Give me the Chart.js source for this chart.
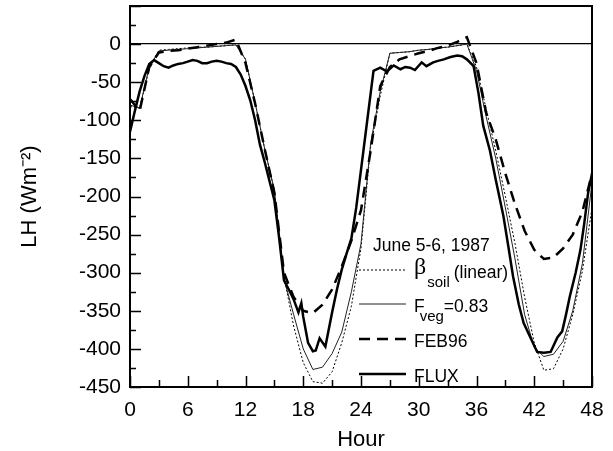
<!DOCTYPE html>
<html>
<head>
<meta charset="utf-8">
<title>LH June 5-6, 1987</title>
<script src="https://cdn.jsdelivr.net/npm/chart.js"></script>
<style>
  html, body { margin: 0; padding: 0; background: #fff; }
</style>
</head>
<body>
<canvas id="lhChart" width="613" height="451"></canvas>
<script>
  // hourly model output, hour 0..48
  const modelHour = [0, 1, 2, 3, 4, 5, 6, 7, 8, 9, 10, 11,
    12, 13, 14, 15, 16, 17, 18, 19, 20, 21, 22, 23,
    24, 25, 26, 27, 28, 29, 30, 31, 32, 33, 34, 35,
    36, 37, 38, 39, 40, 41, 42, 43, 44, 45, 46, 47,
    48];
  const betaSoil = [-82, -84, -33, -8, -7, -6, -5, -4, -4, -3, -2, -1,
    -20, -77, -138, -192, -305, -370, -418, -443, -445, -430, -392, -344,
    -268, -135, -68, -12, -11, -10, -8, -7, -5, -4, -2, 0,
    -30, -85, -140, -200, -262, -332, -392, -428, -426, -400, -355, -298,
    -215];
  const fVeg = [-80, -84, -30, -9, -8, -7, -6, -5, -4, -3, -2, -1,
    -20, -77, -138, -192, -308, -355, -400, -427, -424, -406, -378, -325,
    -262, -130, -62, -12, -11, -10, -8, -7, -5, -4, -2, 0,
    -35, -95, -150, -215, -282, -355, -398, -410, -407, -390, -350, -288,
    -182];
  const feb96 = [-72, -88, -30, -11, -9, -8, -6, -4, -2, 0, 2, 6,
    -25, -78, -138, -195, -300, -332, -350, -353, -342, -322, -292, -258,
    -218, -140, -55, -30, -20, -16, -12, -9, -5, -2, 3, 9,
    -25, -90, -125, -170, -210, -245, -270, -282, -280, -268, -250, -220,
    -170];

  // measured flux
  const fluxHour = [0, 0.5, 1, 1.5, 2, 2.5, 3, 3.5, 4, 4.5,
    5, 5.5, 6, 6.5, 7, 7.5, 8, 8.5, 9, 9.5,
    10, 10.5, 11, 11.5, 12, 12.5, 13, 13.5, 14, 14.5,
    15, 15.5, 16, 16.5, 17, 17.5, 17.8, 18, 18.5, 19,
    19.3, 19.7, 20.3, 21, 21.5, 22, 22.5, 23, 23.5, 24,
    24.5, 25, 25.3, 26, 26.7, 27.4, 28.1, 28.6, 29.1, 29.6,
    30.3, 30.8, 31.5, 32, 32.6, 33.3, 34, 34.5, 35, 35.7,
    36.2, 36.7, 37.4, 38, 38.8, 39.3, 39.8, 40.4, 40.9, 41.6,
    42.3, 43, 43.7, 44.4, 44.9, 45.3, 45.7, 46.3, 46.8, 47.2,
    47.6, 48];
  const fluxLH = [-115, -88, -62, -42, -26, -21, -25, -29, -31, -28,
    -26, -25, -23, -21, -22, -25, -25, -23, -22, -23,
    -25, -26, -30, -40, -55, -74, -100, -132, -155, -180,
    -205, -255, -310, -322, -335, -352, -340, -358, -392, -403,
    -402, -386, -397, -352, -322, -296, -275, -255, -215, -165,
    -115, -65, -35, -31, -36, -28, -33, -30, -31, -34,
    -24, -29, -24, -22, -20, -17, -15, -16, -20, -29,
    -64, -107, -140, -178, -226, -265, -305, -342, -366, -385,
    -404, -405, -404, -385, -377, -355, -331, -300, -270, -235,
    -195, -170];

  const legendTitle = 'June 5-6, 1987';
  const legendMain = ['β', 'F', 'FEB96', 'FLUX'];
  const legendSub = ['soil', 'veg', '', ''];
  const legendRest = ['(linear)', '=0.83', '', ''];

  const FONT = '"Liberation Sans", Arial, Helvetica, sans-serif';

  function pts(xs, ys) {
    return xs.map((h, i) => ({ x: h, y: ys[i] }));
  }

  // inward ticks + box frame
  const frameTicks = {
    id: 'frameTicks',
    afterDraw(chart) {
      const { ctx, chartArea: a, scales: { x, y } } = chart;
      ctx.save();
      ctx.strokeStyle = '#000';
      ctx.lineWidth = 1.5;
      ctx.beginPath();
      for (let v = y.min; v <= y.max; v += 25) {
        const py = Math.round(y.getPixelForValue(v)) + 0.5;
        const len = v % 50 === 0 ? 11 : 6;
        ctx.moveTo(a.left, py); ctx.lineTo(a.left + len, py);
      }
      for (let h = x.min; h <= x.max; h += 3) {
        const px = Math.round(x.getPixelForValue(h)) + 0.5;
        const len = h % 6 === 0 ? 11 : 7;
        ctx.moveTo(px, a.bottom); ctx.lineTo(px, a.bottom - len);
      }
      ctx.stroke();
      ctx.lineWidth = 2;
      ctx.strokeRect(a.left, a.top, a.right - a.left, a.bottom - a.top);
      ctx.restore();
    }
  };

  // legend inside the plot, with subscripts
  const insideLegend = {
    id: 'insideLegend',
    afterDatasetsDraw(chart) {
      const ctx = chart.ctx;
      const x0 = 359, x1 = 406, tx = 414;
      const rowY = [270, 304, 339, 374];
      ctx.save();
      ctx.fillStyle = '#000';
      ctx.textBaseline = 'middle';
      ctx.font = '17.5px ' + FONT;
      ctx.fillText(legendTitle, 373, 246);
      chart.data.datasets.forEach((ds, i) => {
        const yy = rowY[i];
        ctx.strokeStyle = ds.borderColor;
        ctx.lineWidth = ds.borderWidth;
        ctx.setLineDash(ds.borderDash || []);
        ctx.beginPath(); ctx.moveTo(x0, yy); ctx.lineTo(x1, yy); ctx.stroke();
        ctx.setLineDash([]);
        let cx = tx;
        if (i === 0) {
          ctx.font = '24px "Liberation Serif", "Times New Roman", serif';
          ctx.fillText(legendMain[i], cx, yy - 2);
          cx += ctx.measureText(legendMain[i]).width + 1;
        } else {
          ctx.font = '17.5px ' + FONT;
          ctx.fillText(legendMain[i], cx, yy + 3);
          cx += ctx.measureText(legendMain[i]).width;
          if (legendSub[i]) cx -= 5;
        }
        if (legendSub[i]) {
          ctx.font = '15px ' + FONT;
          ctx.fillText(legendSub[i], cx, yy + 13);
          cx += ctx.measureText(legendSub[i]).width;
        }
        if (legendRest[i]) {
          ctx.font = '17.5px ' + FONT;
          ctx.fillText(legendRest[i], cx + (i === 0 ? 4 : 0), yy + 3);
        }
      });
      ctx.restore();
    }
  };

  new Chart(document.getElementById('lhChart'), {
    type: 'line',
    data: {
      datasets: [
        {
          label: 'βsoil (linear)',
          data: pts(modelHour, betaSoil),
          borderColor: '#000',
          borderWidth: 1,
          borderDash: [2, 2],
          order: 3
        },
        {
          label: 'Fveg=0.83',
          data: pts(modelHour, fVeg),
          borderColor: '#222',
          borderWidth: 1,
          order: 2
        },
        {
          label: 'FEB96',
          data: pts(modelHour, feb96),
          borderColor: '#000',
          borderWidth: 2.5,
          borderDash: [11, 7],
          order: 1
        },
        {
          label: 'FLUX',
          data: pts(fluxHour, fluxLH),
          borderColor: '#000',
          borderWidth: 2.5,
          order: 0
        }
      ]
    },
    options: {
      responsive: false,
      animation: false,
      devicePixelRatio: 1,
      layout: { padding: { left: 0, right: 21, top: 6, bottom: 0 } },
      elements: { point: { radius: 0 }, line: { tension: 0, fill: false } },
      plugins: { legend: { display: false }, tooltip: { enabled: false } },
      scales: {
        x: {
          type: 'linear',
          min: 0, max: 48,
          afterFit: s => { s.height = 64; s.paddingLeft = 0; s.paddingRight = 0; },
          grid: { display: false, drawTicks: false },
          border: { display: false },
          ticks: {
            stepSize: 6, autoSkip: false, maxRotation: 0, padding: 11,
            color: '#000', font: { family: FONT, size: 21 }
          },
          title: {
            display: true, text: 'Hour', color: '#000',
            font: { family: FONT, size: 22, lineHeight: 1 },
            padding: { top: 0, bottom: 0 }
          }
        },
        y: {
          min: -450, max: 50,
          afterFit: s => { s.width = 130; s.paddingTop = 0; s.paddingBottom = 0; },
          grid: {
            drawTicks: false,
            lineWidth: 1.2,
            color: c => (c.tick && c.tick.value === 0) ? '#000' : 'rgba(0,0,0,0)'
          },
          border: { display: false },
          ticks: {
            stepSize: 50, padding: 9, color: '#000',
            font: { family: FONT, size: 21 },
            callback: v => (v === 50 ? null : v)
          },
          title: {
            display: true, text: 'LH (Wm⁻²)', color: '#000',
            font: { family: FONT, size: 22, lineHeight: 1 },
            padding: { top: 19, bottom: 0 }
          }
        }
      }
    },
    plugins: [frameTicks, insideLegend]
  });
</script>
</body>
</html>
